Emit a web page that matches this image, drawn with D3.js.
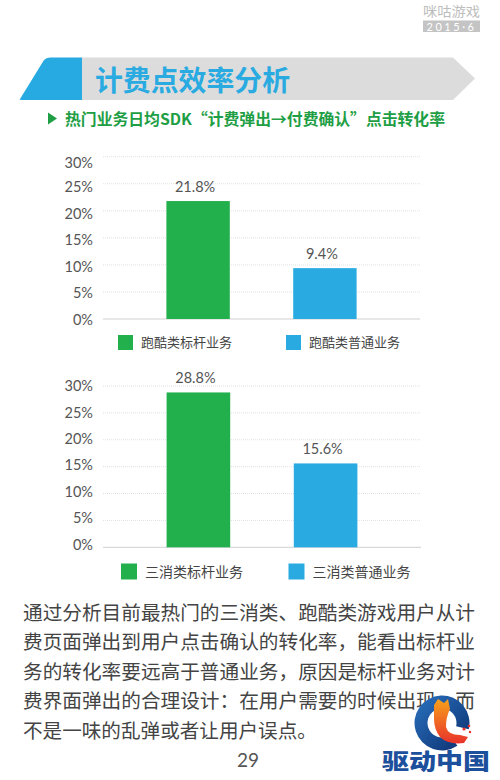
<!DOCTYPE html>
<html>
<head>
<meta charset="utf-8">
<script src="https://cdn.jsdelivr.net/npm/d3@7"></script>
<style>
  html, body { margin: 0; padding: 0; background: #fff; }
  svg { display: block; }
</style>
</head>
<body>
<svg id="page" width="500" height="780"></svg>
<script>
// ---------------- DATA ----------------
const pageTitle = "计费点效率分析";
const subTitle = "热门业务日均SDK“计费弹出→付费确认”点击转化率";
const chart1Categories = ["跑酷类标杆业务", "跑酷类普通业务"];
const chart1Values = [21.8, 9.4];
const chart2Categories = ["三消类标杆业务", "三消类普通业务"];
const chart2Values = [28.8, 15.6];
const yTickValues = [0, 5, 10, 15, 20, 25, 30];
const barColors = ["#21b04b", "#29abe2"];
const paragraphLines = [
  "通过分析目前最热门的三消类、跑酷类游戏用户从计",
  "费页面弹出到用户点击确认的转化率，能看出标杆业",
  "务的转化率要远高于普通业务，原因是标杆业务对计",
  "费界面弹出的合理设计：在用户需要的时候出现，而",
  "不是一味的乱弹或者让用户误点。"
];
const pageNumber = "29";
const logoDate = "2015·6";

// ---------------- DRAWING ----------------
const svg = d3.select("#page");
const CJK = "'Noto Sans CJK SC', 'Noto Sans', sans-serif";
const NUM = "Lato, 'Open Sans', 'Noto Sans', sans-serif";

// top-right logo
const logo = svg.append("g");
logo.append("text").attr("x", 423).attr("y", 16)
  .attr("font-family", CJK).attr("font-size", 13).attr("fill", "#bdbdbd")
  .attr("textLength", 57).attr("lengthAdjust", "spacingAndGlyphs")
  .text("咪咕游戏");
logo.append("rect").attr("x", 423).attr("y", 20.5).attr("width", 57).attr("height", 11.5).attr("fill", "#c4c4c4");
logo.append("text").attr("x", 451.5).attr("y", 30.5).attr("text-anchor", "middle")
  .attr("font-family", NUM).attr("font-size", 11).attr("fill", "#fff")
  .attr("letter-spacing", 2.5).text(logoDate);

// banner
svg.append("path")
  .attr("d", "M82,57.5 L453,57.5 L475,78.5 L453,100 L82,100 Z")
  .attr("fill", "#dcdcdc");
svg.append("path")
  .attr("d", "M20,99 Q18,100 24,100 L82,100 L82,57.5 L50,57.5 Q46,57.5 44,60 Z")
  .attr("fill", "#27aae1");
svg.append("text").attr("x", 95).attr("y", 91)
  .attr("font-family", CJK).attr("font-size", 28).attr("font-weight", 700)
  .attr("fill", "#29abe2").attr("textLength", 195).attr("lengthAdjust", "spacingAndGlyphs")
  .text(pageTitle);

// subtitle
svg.append("path").attr("d", "M48,112.5 L57,118.5 L48,124.5 Z").attr("fill", "#1e9e45");
svg.append("text").attr("x", 65).attr("y", 124.5)
  .attr("font-family", CJK).attr("font-size", 15.5).attr("font-weight", 700)
  .attr("fill", "#1e9e45").attr("textLength", 380).attr("lengthAdjust", "spacingAndGlyphs")
  .text(subTitle);

function drawChart(cfg) {
  const g = svg.append("g");
  const y = d3.scaleLinear().domain([0, 30]).range([cfg.y0, cfg.y30]);
  const x = d3.scaleBand().domain(cfg.categories).range([cfg.xLeft, cfg.xRight])
    .paddingInner(0.5).paddingOuter(0.5);

  // gridlines
  g.selectAll("line.grid").data(yTickValues).enter().append("line")
    .attr("x1", cfg.xLeft).attr("x2", cfg.xRight)
    .attr("y1", d => y(d)).attr("y2", d => y(d))
    .attr("stroke", d => d === 0 ? "#d0d0d0" : "#e2e2e2")
    .attr("stroke-width", 1)
    .attr("stroke-dasharray", d => d === 0 ? null : "1,1");

  // y axis labels via d3 axis
  const axis = d3.axisLeft(y).tickValues(yTickValues).tickSize(0).tickPadding(0)
    .tickFormat(d => d + "%");
  const ag = g.append("g").attr("transform", `translate(${cfg.labelX},0)`).call(axis);
  ag.select(".domain").remove();
  ag.selectAll("text")
    .attr("font-family", NUM).attr("font-size", 14.5).attr("fill", "#555")
    .attr("dy", "0.36em")
    .attr("y", (d) => cfg.labelShift(d));

  // bars
  g.selectAll("rect.bar").data(cfg.values).enter().append("rect")
    .attr("x", (d, i) => x(cfg.categories[i]))
    .attr("y", d => y(d))
    .attr("width", x.bandwidth())
    .attr("height", d => y(0) - y(d))
    .attr("fill", (d, i) => barColors[i]);

  // value labels
  g.selectAll("text.val").data(cfg.values).enter().append("text")
    .attr("x", (d, i) => x(cfg.categories[i]) + x.bandwidth() / 2 - 3)
    .attr("y", d => y(d) - 9)
    .attr("text-anchor", "middle")
    .attr("font-family", NUM).attr("font-size", 14.5).attr("fill", "#555")
    .text(d => d + "%");

  // legend
  cfg.categories.forEach((c, i) => {
    g.append("rect").attr("x", cfg.legendX[i]).attr("y", cfg.legendY)
      .attr("width", cfg.legendSize).attr("height", cfg.legendSize).attr("fill", barColors[i]);
    g.append("text").attr("x", cfg.legendX[i] + cfg.legendSize + cfg.legendGap)
      .attr("y", cfg.legendY + cfg.legendSize / 2).attr("dy", "0.36em")
      .attr("font-family", CJK).attr("font-size", cfg.legendFont).attr("fill", "#444")
      .text(c);
  });
}

drawChart({
  categories: chart1Categories, values: chart1Values,
  y0: 319, y30: 156.7, xLeft: 103, xRight: 420, labelX: 93,
  labelShift: d => 3.5 - (30 - d) * 0.12 + (d === 30 ? 2.5 : 0),
  legendX: [118, 286], legendY: 335, legendSize: 15, legendGap: 8, legendFont: 13
});
drawChart({
  categories: chart2Categories, values: chart2Values,
  y0: 547.3, y30: 386, xLeft: 103, xRight: 421, labelX: 93,
  labelShift: d => -0.5 - (30 - d) * 0.1,
  legendX: [121, 288.5], legendY: 563.5, legendSize: 16, legendGap: 8, legendFont: 14
});

// paragraph
svg.selectAll("text.para").data(paragraphLines).enter().append("text")
  .attr("x", 23)
  .attr("y", (d, i) => 619.5 + i * 29.5)
  .attr("font-family", CJK).attr("font-size", 19.6).attr("fill", "#444")
  .each(function (d, i) {
    if (i < paragraphLines.length - 1) {
      d3.select(this).attr("textLength", 452).attr("lengthAdjust", "spacingAndGlyphs");
    }
  })
  .text(d => d);

// page number
svg.append("text").attr("x", 248).attr("y", 767).attr("text-anchor", "middle")
  .attr("font-family", NUM).attr("font-size", 19).attr("fill", "#555").text(pageNumber);

// watermark logo
const defs = svg.append("defs");
const rg = defs.append("linearGradient").attr("id", "ringGrad").attr("x1", "0").attr("y1", "0").attr("x2", "1").attr("y2", "1");
rg.append("stop").attr("offset", "0").attr("stop-color", "#2a72c0");
rg.append("stop").attr("offset", "1").attr("stop-color", "#0b2f6e");
const og = defs.append("linearGradient").attr("id", "orGrad").attr("x1", "0").attr("y1", "0").attr("x2", "0").attr("y2", "1");
og.append("stop").attr("offset", "0").attr("stop-color", "#f7a21b");
og.append("stop").attr("offset", "1").attr("stop-color", "#e8322b");
const wm = svg.append("g").attr("transform", "translate(442,723)");
const ringArc = d3.arc().innerRadius(14.5).outerRadius(27.5)
  .startAngle(2.55).endAngle(2.55 + Math.PI * 2 - 0.75);
wm.append("path").attr("d", ringArc()).attr("fill", "url(#ringGrad)");
wm.append("path")
  .attr("d", "M-8,-18 L-4,-24 L2,-20 L6,-24 L8,-14 Q4,-6 4,4 Q6,12 18,12 L26,14 L22,20 Q6,22 -2,14 Q-8,6 -8,-4 Z")
  .attr("fill", "url(#orGrad)");
wm.append("circle").attr("cx", 22).attr("cy", 6).attr("r", 1.6).attr("fill", "#e8322b");
wm.append("circle").attr("cx", 27).attr("cy", 3).attr("r", 1.3).attr("fill", "#e8322b");
wm.append("circle").attr("cx", 28).attr("cy", 9).attr("r", 1.2).attr("fill", "#e8322b");
svg.append("text").attr("x", 382).attr("y", 769)
  .attr("font-family", CJK).attr("font-size", 22).attr("font-weight", 900)
  .attr("fill", "#1c4f9c").attr("textLength", 108).attr("lengthAdjust", "spacingAndGlyphs")
  .text("驱动中国");
</script>
</body>
</html>
